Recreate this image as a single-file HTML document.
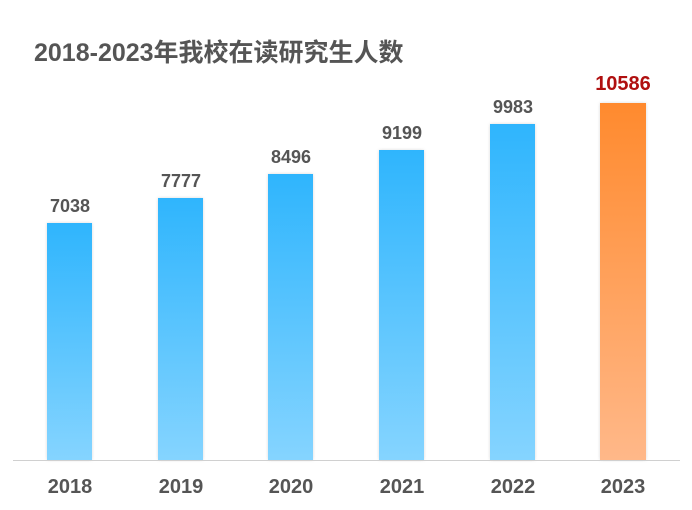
<!DOCTYPE html>
<html><head><meta charset="utf-8"><style>
body{margin:0;width:692px;height:510px;background:#fff;position:relative;overflow:hidden;font-family:"Liberation Sans","Noto Sans CJK SC",sans-serif;}
.t{position:absolute;left:34px;top:33px;font-size:25px;font-weight:bold;color:#555;}
.b{position:absolute;width:45px;background:linear-gradient(#2fb5fd,#85d4ff);box-shadow:0 0 3px rgba(0,0,0,0.15);}
.v{position:absolute;width:90px;text-align:center;font-size:18px;font-weight:bold;color:#555;}
.x{position:absolute;top:476px;width:90px;text-align:center;font-size:20px;font-weight:bold;color:#555;}
.ax{position:absolute;left:13px;width:667px;top:460px;height:1px;background:#d0d0d0;}
</style></head><body>
<div class="t">2018-2023年我校在读研究生人数</div>
<div class="b" style="left:47px;top:223px;height:237px"></div>
<div class="b" style="left:158px;top:198px;height:262px"></div>
<div class="b" style="left:268px;top:174px;height:286px"></div>
<div class="b" style="left:379px;top:150px;height:310px"></div>
<div class="b" style="left:490px;top:124px;height:336px"></div>
<div class="b" style="left:600px;top:103px;height:357px;width:46px;background:linear-gradient(#ff8a2e,#ffb889)"></div>
<div class="v" style="left:25px;top:196px">7038</div>
<div class="v" style="left:136px;top:171px">7777</div>
<div class="v" style="left:246px;top:147px">8496</div>
<div class="v" style="left:357px;top:123px">9199</div>
<div class="v" style="left:468px;top:97px">9983</div>
<div class="v" style="left:578px;top:73px;color:#b01010;font-size:20px">10586</div>
<div class="ax"></div>
<div class="x" style="left:25px">2018</div>
<div class="x" style="left:136px">2019</div>
<div class="x" style="left:246px">2020</div>
<div class="x" style="left:357px">2021</div>
<div class="x" style="left:468px">2022</div>
<div class="x" style="left:578px">2023</div>
</body></html>
